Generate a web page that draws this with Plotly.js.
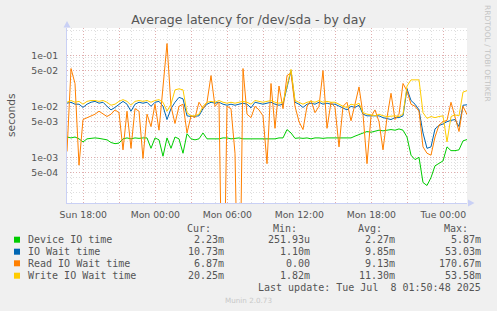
<!DOCTYPE html>
<html>
<head>
<meta charset="utf-8">
<script src="https://cdn.plot.ly/plotly-3.0.1.min.js"></script>
<style>html,body{margin:0;padding:0;background:#F0F0F0;}#chart{width:497px;height:311px;}</style>
</head>
<body>
<div id="chart"></div>
<script>
// ---- data (values in milliseconds, one sample every 20 minutes) ----
const startHour = 16.64;          // Sun 16:38, hours since Sun 00:00
const sampleStepHours = 1 / 3;
const deviceMs = [2.5,2.4,2.5,2.3,2.0,2.3,2.35,2.4,2.35,2.3, 2.2,1.95,1.85,1.9,2.3,2.4,2.3,2.4,2.35,2.4,
  2.4,1.5,2.4,2.2,1.05,2.4,1.5,2.5,2.3,1.2, 2.9,2.3,2.2,2.3,3.0,2.3,2.3,2.35,2.3,2.4,
  2.4,2.3,2.35,2.4,2.3,2.3,2.35,2.3,2.3,2.35, 2.3,2.35,2.3,2.4,2.4,3.5,3.0,2.35,2.4,2.35,
  2.4,2.3,2.4,2.4,2.35,2.4,2.4,2.45,2.4,2.4, 2.45,2.4,2.6,2.8,3.0,3.2,3.1,3.3,3.4,3.3,
  3.4,3.5,3.4,3.6,3.4,2.5,1.1,0.9,1.0,0.32, 0.28,0.4,0.68,0.75,0.85,1.6,1.35,1.35,1.4,2.1, 2.23];
const ioWaitMs = [11.5,12,11,11,9.5,11,12,12.5,11.5,12, 10,8.5,9.5,11,12.5,11,8,11,12,11.5,
  12,10,12,12.5,10,5.5,9,12,15,14, 6.5,6.3,6.3,6.5,9,11,12,11.5,12,11,
  10.5,11,10.5,11,11.5,11,9.3,12,11.5,11, 11.5,12,11,10.5,11,25,50,12,11,9.5,
  11,11.5,11,12,11,11.5,11,11,10,9, 8.5,10,9.5,10.5,7,6.5,6.5,6.3,6.5,6.0,
  5.8,5.5,6,6,6.5,22,13,11,8.5,3.0, 1.5,1.6,3.6,4.2,4.5,5.0,5.3,5.5,4.0,10.5, 10.7];
const readMs = [1.3,55,28,0.7,5.5,6,6.5,7,8,7, 6.3,7,8.5,7.5,1.4,8,1.5,9,8,0.95,
  7,4.0,11,3.4,24,170,10,4.6,10,11, 3,6.5,6,12,9,12,40,10,12,0,
  10,9,1.2,0,55,7,6,10,8.5,6.5, 0.75,28,3.7,25,9,40,45,10,5,3.5,
  10,13,7.5,10,50,3.7,12,9.5,1.6,10, 12,5.2,11,24,7,0.75,6.3,8.5,5,1.4,
  6,18,5.5,7,28,20,11,10,8,1.6, 1.2,1.1,2.5,4.3,5,5.3,12,6,3.2,10, 6.9];
const writeMs = [12,13,12,12.5,11,12.5,13,13,12.5,13, 12,10.5,11,12.5,13.5,12.5,10.5,12.5,13,12.5,
  13,12,13,13.5,12,8,11,21,22,21, 7.5,6.5,6.5,7,10,12,12.5,12,13,12,
  11.5,12,11.5,12,12.5,12,11,13,12.5,12, 12.5,13,12,11.5,12,25,53,13,12,11,
  12,12.5,12,13,12,12.5,12,12,11,10, 9.5,11,10.5,11.5,7.5,7,6.8,6.5,7,6.5,
  6.3,6.5,6.5,6.3,7,25,33,33,33,7.5, 5.8,6.3,6,6.3,6.5,2.0,6.3,6.8,6.5,19, 20.25];

const seriesNames = ['Device IO time', 'IO Wait time', 'Read IO Wait time', 'Write IO Wait time'];
const seriesColors = ['#00CC00', '#0066B3', '#FF8000', '#FFCC00'];
const curText = ['2.23m', '10.73m', '6.87m', '20.25m'];
const minText = ['251.93u', '1.10m', '0.00', '1.82m'];
const avgText = ['2.27m', '9.85m', '9.13m', '11.30m'];
const maxText = ['5.87m', '53.03m', '170.67m', '53.58m'];
const columnHeaders = ['Cur:', 'Min:', 'Avg:', 'Max:'];

const xTickHours = [18, 21, 24, 27, 30, 33, 36, 39, 42, 45, 48];
const xTickLabels = ['Sun 18:00', '', 'Mon 00:00', '', 'Mon 06:00', '', 'Mon 12:00', '', 'Mon 18:00', '', 'Tue 00:00'];
const yTickVals = [1e-1, 5e-2, 1e-2, 5e-3, 1e-3, 5e-4];
const yTickLabels = ['1e-01', '5e-02', '1e-02', '5e-03', '1e-03', '5e-04'];
const yMinorVals = [2e-4,3e-4,4e-4,6e-4,7e-4,8e-4,9e-4, 2e-3,3e-3,4e-3,6e-3,7e-3,8e-3,9e-3,
  2e-2,3e-2,4e-2,6e-2,7e-2,8e-2,9e-2, 2e-1,3e-1];

const titleText = 'Average latency for /dev/sda - by day';
const lastUpdate = 'Last update: Tue Jul  8 01:50:48 2025';
const footer = 'Munin 2.0.73';
const credit = 'RRDTOOL / TOBI OETIKER';

// ---- build ----
const L = 67, R = 467, T = 28, B = 203, W = 497, H = 311;
const px = x => (x - L) / (R - L);
const py = y => (B - y) / (B - T);
const times = deviceMs.map((_, i) => startHour + i * sampleStepHours);
const toSeconds = arr => arr.map(v => v === 0 ? 1e-7 : v / 1000);

const allSeries = [deviceMs, ioWaitMs, readMs, writeMs];
const traces = allSeries.map((s, k) => ({
  type: 'scatter', mode: 'lines', x: times, y: toSeconds(s),
  name: seriesNames[k], line: {color: seriesColors[k], width: 1}, hoverinfo: 'skip'
}));

const mono = {family: 'DejaVu Sans Mono', size: 10, color: '#555'};
const annotations = [];
const shapes = [];
const rowY = [239.7, 251.7, 263.3, 275.7];
const colRight = [226, 312, 397, 483];
const headRight = [212.7, 299, 384, 470];
columnHeaders.forEach((h, c) => annotations.push({xref:'paper', yref:'paper', x: px(headRight[c]), y: py(228.3),
  text: h, showarrow:false, xanchor:'right', yanchor:'middle', font: mono}));
seriesNames.forEach((n, k) => {
  annotations.push({xref:'paper', yref:'paper', x: px(26), y: py(rowY[k]), text: n, showarrow:false,
    xanchor:'left', yanchor:'middle', font: mono});
  [curText, minText, avgText, maxText].forEach((arr, c) => annotations.push({xref:'paper', yref:'paper',
    x: px(colRight[c]), y: py(rowY[k]), text: arr[k], showarrow:false, xanchor:'right', yanchor:'middle', font: mono}));
  shapes.push({type:'rect', xref:'paper', yref:'paper', x0: px(14), x1: px(20), y0: py(rowY[k] + 3), y1: py(rowY[k] - 3),
    fillcolor: seriesColors[k], line: {width: 0}});
});
annotations.push({xref:'paper', yref:'paper', x: px(483), y: py(287.3), text: lastUpdate, showarrow:false,
  xanchor:'right', yanchor:'middle', font: mono});
annotations.push({xref:'paper', yref:'paper', x: px(248), y: py(300), text: footer, showarrow:false,
  xanchor:'center', yanchor:'middle', font: {family:'DejaVu Sans', size: 7.2, color:'#C8C8C8'}});
annotations.push({xref:'paper', yref:'paper', x: px(488), y: py(53), text: credit, showarrow:false, textangle: 90,
  xanchor:'center', yanchor:'middle', font: {family:'DejaVu Sans', size: 7.5, color:'#C4C4C4'}});
annotations.push({xref:'paper', yref:'paper', x: px(11), y: py(115), text: 'seconds', showarrow:false, textangle: -90,
  xanchor:'center', yanchor:'middle', font: {family:'DejaVu Sans', size: 10.7, color:'#555'}});

const axisColor = '#C9D0F5';
const p = (x, y) => px(x) + ',' + py(y);
shapes.push({type:'path', xref:'paper', yref:'paper', path: 'M' + p(63.5, 27.5) + ' L' + p(70.5, 27.5) + ' L' + p(67, 21) + ' Z',
  fillcolor: axisColor, line: {width: 0}});
shapes.push({type:'path', xref:'paper', yref:'paper', path: 'M' + p(468, 199.5) + ' L' + p(468, 206.5) + ' L' + p(474.5, 203) + ' Z',
  fillcolor: axisColor, line: {width: 0}});

const majorGrid = '#E0AEAE', minorGrid = '#DEDEDE', dash = '1px,2px';
const tickFont = {family: 'DejaVu Sans', size: 9.3, color: '#555'};
const layout = {
  width: W, height: H,
  margin: {l: L, r: W - R, t: T, b: H - B, pad: 0},
  paper_bgcolor: '#F0F0F0', plot_bgcolor: '#FFFFFF',
  showlegend: false,
  title: {text: titleText, font: {family: 'DejaVu Sans', size: 12.5, color: '#555'},
    x: 0.5, xref: 'container', xanchor: 'center', y: 1 - 19.5 / H, yref: 'container', yanchor: 'middle'},
  xaxis: {range: [startHour, startHour + 400 / 12], tickmode: 'array', tickvals: xTickHours, ticktext: xTickLabels,
    showgrid: true, gridcolor: majorGrid, griddash: dash, gridwidth: 1, zeroline: false,
    showline: true, linecolor: axisColor, linewidth: 1, ticks: '', tickfont: tickFont, ticklabelstandoff: 3,
    minor: {dtick: 1, tick0: 0, showgrid: true, gridcolor: minorGrid, griddash: dash, gridwidth: 1}},
  yaxis: {type: 'log', range: [Math.log10(1.27e-4), Math.log10(0.343)], tickmode: 'array', tickvals: yTickVals,
    ticktext: yTickLabels, showgrid: true, gridcolor: majorGrid, griddash: dash, gridwidth: 1, zeroline: false,
    showline: true, linecolor: axisColor, linewidth: 1, ticks: '', tickfont: tickFont, ticklabelstandoff: 6,
    minor: {tickmode: 'array', tickvals: yMinorVals, showgrid: true, gridcolor: minorGrid, griddash: dash, gridwidth: 1}},
  annotations: annotations,
  shapes: shapes
};
Plotly.newPlot('chart', traces, layout, {staticPlot: true, displayModeBar: false});
</script>
</body>
</html>
